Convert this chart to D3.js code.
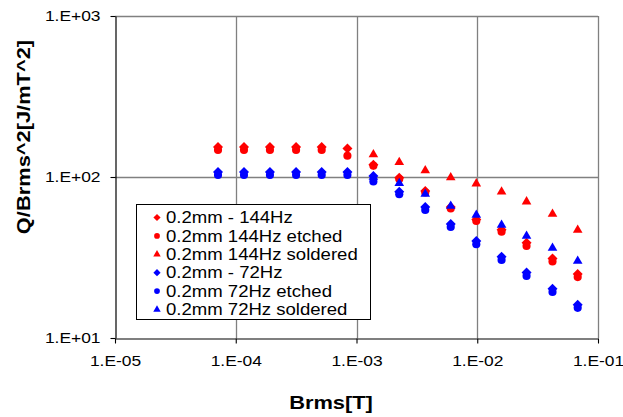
<!DOCTYPE html>
<html>
<head>
<meta charset="utf-8">
<script src="https://cdn.jsdelivr.net/npm/d3@7/dist/d3.min.js"></script>
<style>
  html, body { margin: 0; padding: 0; background: #fff; }
  svg { display: block; }
  text { font-family: "Liberation Sans", Arial, Helvetica, sans-serif; fill: #000; }
</style>
</head>
<body>
<svg id="chart" width="623" height="417"></svg>
<script>
// Field amplitude Brms [T] for each measurement step
const brms = [7.13e-5, 1.17e-4, 1.92e-4, 3.16e-4, 5.15e-4, 8.41e-4, 1.38e-3, 2.26e-3,
              3.71e-3, 6.03e-3, 9.82e-3, 1.59e-2, 2.56e-2, 4.20e-2, 6.79e-2];

// Q/Brms^2 [J/mT^2] per sample
const plain144    = [153.6, 153.6, 153.6, 153.6, 153.6, 150.3, 119, 99, 82, 65, 54.5, 47, 39, 31.2, 25];
const etched144   = [147.2, 147.2, 147.2, 147.2, 147.2, 135.6, 117.5, 97.2, 80.1, 63.7, 53.3, 45.7, 37.3, 29.9, 23.9];
const soldered144 = [null, null, null, null, null, null, 138.0, 123.4, 109.7, 99.3, 90.9, 81.0, 70.3, 58.9, 46.9];
const plain72     = [107.4, 107.4, 107.4, 107.4, 107.4, 107.4, 101.4, 81, 65, 51, 40, 32, 25.5, 20.2, 16.1];
const etched72    = [102.9, 102.9, 102.9, 102.9, 102.9, 102.9, 93.8, 78.1, 62.4, 48.9, 38.2, 30.5, 24.3, 19.3, 15.4];
const soldered72  = [null, null, null, null, null, null, 100, 91.4, 78.4, 66.1, 58.1, 50.3, 43.0, 36.2, 30.1];

const seriesNames = ["0.2mm - 144Hz", "0.2mm 144Hz etched", "0.2mm 144Hz soldered",
                     "0.2mm - 72Hz", "0.2mm 72Hz etched", "0.2mm 72Hz soldered"];
const seriesValues = [plain144, etched144, soldered144, plain72, etched72, soldered72];
const seriesShapes = ["diamond", "circle", "triangle", "diamond", "circle", "triangle"];
const seriesColors = ["#ff0000", "#ff0000", "#ff0000", "#0000ff", "#0000ff", "#0000ff"];

const xTicks = [1e-5, 1e-4, 1e-3, 1e-2, 1e-1];
const xTickLabels = ["1.E-05", "1.E-04", "1.E-03", "1.E-02", "1.E-01"];
const yTicks = [10, 100, 1000];
const yTickLabels = ["1.E+01", "1.E+02", "1.E+03"];

const xTitle = "Brms[T]";
const yTitle = "Q/Brms^2[J/mT^2]";

// ---- layout ----
const plot = { left: 115, right: 598, top: 16, bottom: 338 };
const labelStretch = 1.16;   // horizontal stretch of the chart's type
const titleStretch = 1.15;

const svg = d3.select("#chart");
svg.append("rect").attr("width", 623).attr("height", 417).attr("fill", "#fff");

const x = d3.scaleLog().domain([1e-5, 1e-1]).range([plot.left, plot.right]);
const y = d3.scaleLog().domain([10, 1000]).range([plot.bottom, plot.top]);

// gridlines and frame (grey)
const grid = svg.append("g").attr("stroke", "#808080").attr("stroke-width", 1.3).attr("fill", "none");
xTicks.slice(1).forEach(t => {
  const px = Math.round(x(t)) + 0.5;
  grid.append("line").attr("x1", px).attr("x2", px).attr("y1", plot.top).attr("y2", plot.bottom);
});
yTicks.slice(1).forEach(t => {
  const py = Math.round(y(t)) + 0.5;
  grid.append("line").attr("x1", plot.left).attr("x2", plot.right).attr("y1", py).attr("y2", py);
});

// axes
const fmtX = d => xTickLabels[xTicks.indexOf(d)];
const fmtY = d => yTickLabels[yTicks.indexOf(d)];

const xAxis = svg.append("g")
  .attr("transform", `translate(0,${Math.round(plot.bottom) + 0.5})`)
  .call(d3.axisBottom(x).tickValues(xTicks).tickFormat(fmtX).tickSizeInner(5).tickSizeOuter(0).tickPadding(12));
const yAxis = svg.append("g")
  .attr("transform", `translate(${Math.round(plot.left) + 0.5},0)`)
  .call(d3.axisLeft(y).tickValues(yTicks).tickFormat(fmtY).tickSizeInner(5).tickSizeOuter(0).tickPadding(10));

[xAxis, yAxis].forEach(g => {
  g.select(".domain").attr("stroke", "#000").attr("stroke-width", 1.2);
  g.selectAll(".tick line").attr("stroke", "#000").attr("stroke-width", 1.1);
  g.selectAll(".tick text")
    .style("font-family", '"Liberation Sans", Arial, sans-serif')
    .attr("font-size", 15).attr("fill", "#000");
});
// widen tick labels around their anchor points
xAxis.selectAll(".tick text").attr("transform", `scale(${labelStretch},1)`);
yAxis.selectAll(".tick text").each(function () {
  const t = d3.select(this);
  const xx = +t.attr("x");
  t.attr("x", xx / labelStretch).attr("transform", `scale(${labelStretch},1)`);
});

// square diamond (rotated square), sized by area like the built-in symbols
const squareDiamond = {
  draw(ctx, size) {
    const r = Math.sqrt(size / 2);
    ctx.moveTo(0, -r); ctx.lineTo(r, 0); ctx.lineTo(0, r); ctx.lineTo(-r, 0); ctx.closePath();
  }
};

// markers
const symbolFor = {
  diamond: d3.symbol().type(squareDiamond).size(50),
  circle: d3.symbol().type(d3.symbolCircle).size(52),
  triangle: d3.symbol().type(d3.symbolTriangle).size(40)
};
const legendSymbolFor = {
  diamond: d3.symbol().type(squareDiamond).size(26),
  circle: d3.symbol().type(d3.symbolCircle).size(26),
  triangle: d3.symbol().type(d3.symbolTriangle).size(24)
};

seriesValues.forEach((vals, i) => {
  const pts = brms.map((b, k) => ({ b, v: vals[k] })).filter(p => p.v != null);
  svg.append("g").selectAll("path").data(pts).join("path")
    .attr("d", symbolFor[seriesShapes[i]])
    .attr("transform", p => `translate(${x(p.b)},${y(p.v)})`)
    .attr("fill", seriesColors[i]);
});

// legend
const legend = svg.append("g");
legend.append("rect").attr("x", 136.5).attr("y", 204.5).attr("width", 234).attr("height", 115)
  .attr("fill", "#fff").attr("stroke", "#000").attr("stroke-width", 1);
seriesNames.forEach((name, i) => {
  const cy = 217.5 + i * 18.4;
  legend.append("path").attr("d", legendSymbolFor[seriesShapes[i]])
    .attr("transform", `translate(157,${cy})`).attr("fill", seriesColors[i]);
  legend.append("text")
    .attr("transform", `translate(166,${cy}) scale(${labelStretch},1)`)
    .attr("dy", "0.36em").attr("font-size", 16).text(name);
});

// axis titles
svg.append("text")
  .attr("transform", `translate(331,402) scale(${titleStretch},1)`)
  .attr("text-anchor", "middle").attr("dy", "0.36em")
  .attr("font-size", 19).attr("font-weight", "bold").text(xTitle);
svg.append("text")
  .attr("transform", `translate(23,137) rotate(-90) scale(${titleStretch},1)`)
  .attr("text-anchor", "middle").attr("dy", "0.36em")
  .attr("font-size", 19).attr("font-weight", "bold").text(yTitle);
</script>
</body>
</html>
